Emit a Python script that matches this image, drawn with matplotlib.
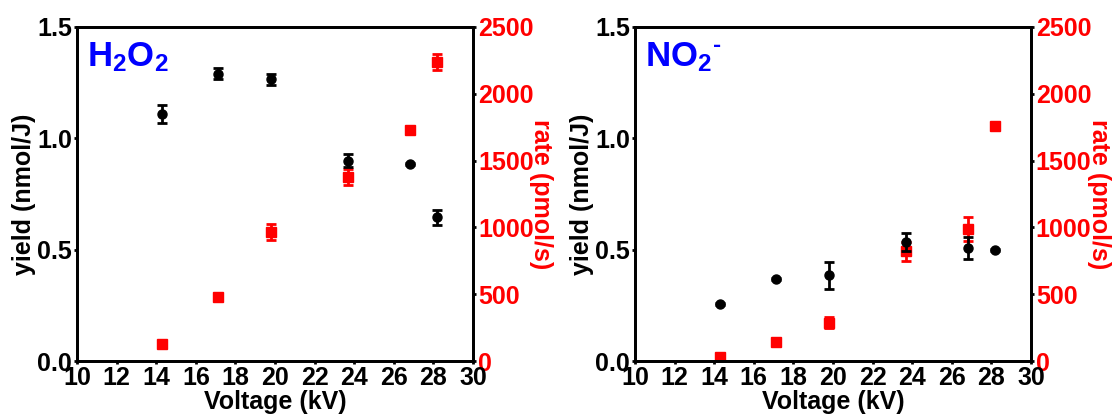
import numpy as np
import matplotlib
matplotlib.use("Agg")
import matplotlib.pyplot as plt

plt.rcParams['font.family'] = ['Liberation Sans', 'DejaVu Sans']
plt.rcParams['font.weight'] = 'bold'
plt.rcParams['mathtext.fontset'] = 'custom'
plt.rcParams['mathtext.bf'] = 'Liberation Sans:bold'
plt.rcParams['mathtext.rm'] = 'Liberation Sans:bold'

# voltage points (kV)
voltage = [14.3, 17.1, 19.8, 23.7, 26.8, 28.2]

# H2O2
h2o2_yield = [1.11, 1.29, 1.265, 0.90, 0.883, 0.645]
h2o2_yield_err = [0.04, 0.025, 0.025, 0.03, 0.005, 0.035]
h2o2_rate = [125, 481, 963, 1375, 1731, 2238]
h2o2_rate_err = [10, 10, 60, 60, 10, 60]

# NO2-
no2_yield = [0.256, 0.367, 0.385, 0.533, 0.506, 0.50]
no2_yield_err = [0.005, 0.005, 0.06, 0.04, 0.05, 0.005]
no2_rate = [32, 140, 287, 820, 990, 1757]
no2_rate_err = [5, 10, 40, 70, 90, 10]

panels = [
    ('$\\mathbf{H_2O_2}$', h2o2_yield, h2o2_yield_err, h2o2_rate, h2o2_rate_err),
    ('$\\mathbf{NO_2{}^{\u2010}}$', no2_yield, no2_yield_err, no2_rate, no2_rate_err),
]

FS = 18
fig = plt.figure(figsize=(11.13, 4.16), dpi=100)
lefts = [0.0692, 0.5705]
width = 0.3558

for (title, yld, yerr, rate, rerr), left in zip(panels, lefts):
    ax = fig.add_axes([left, 0.1322, width, 0.803])
    ax2 = ax.twinx()

    ax2.errorbar(voltage, rate, yerr=rerr, fmt='s', color='red', ms=7,
                 elinewidth=2, capsize=3.5, capthick=2, zorder=2)
    ax.errorbar(voltage, yld, yerr=yerr, fmt='o', color='black', ms=6.5,
                elinewidth=2, capsize=3.5, capthick=2, zorder=3)
    # keep the yield points on top of the rate points
    ax.set_zorder(ax2.get_zorder() + 1)
    ax.patch.set_visible(False)

    ax.set_xlim(10, 30)
    ax.set_xticks(np.arange(10, 31, 2))
    ax.set_ylim(0, 1.5)
    ax.set_yticks([0.0, 0.5, 1.0, 1.5])
    ax.set_yticklabels(['0.0', '0.5', '1.0', '1.5'])
    ax2.set_ylim(0, 2500)
    ax2.set_yticks([0, 500, 1000, 1500, 2000, 2500])

    for a in (ax, ax2):
        for s in a.spines.values():
            s.set_linewidth(2)
        a.tick_params(direction='out', length=2.5, width=2, pad=1,
                      labelsize=FS)
    ax2.tick_params(axis='y', colors='black', labelcolor='red')

    ax.set_xlabel('Voltage (kV)', fontsize=FS, fontweight='bold', labelpad=0)
    ax.set_ylabel('yield (nmol/J)', fontsize=FS, fontweight='bold', labelpad=1)
    ax2.set_ylabel('rate (pmol/s)', fontsize=FS, fontweight='bold',
                   color='red', rotation=-90, labelpad=14)

    ax.text(0.025, 0.96, title, transform=ax.transAxes, color='blue',
            fontsize=25, va='top', ha='left')

fig.savefig('out.png', dpi=100)
